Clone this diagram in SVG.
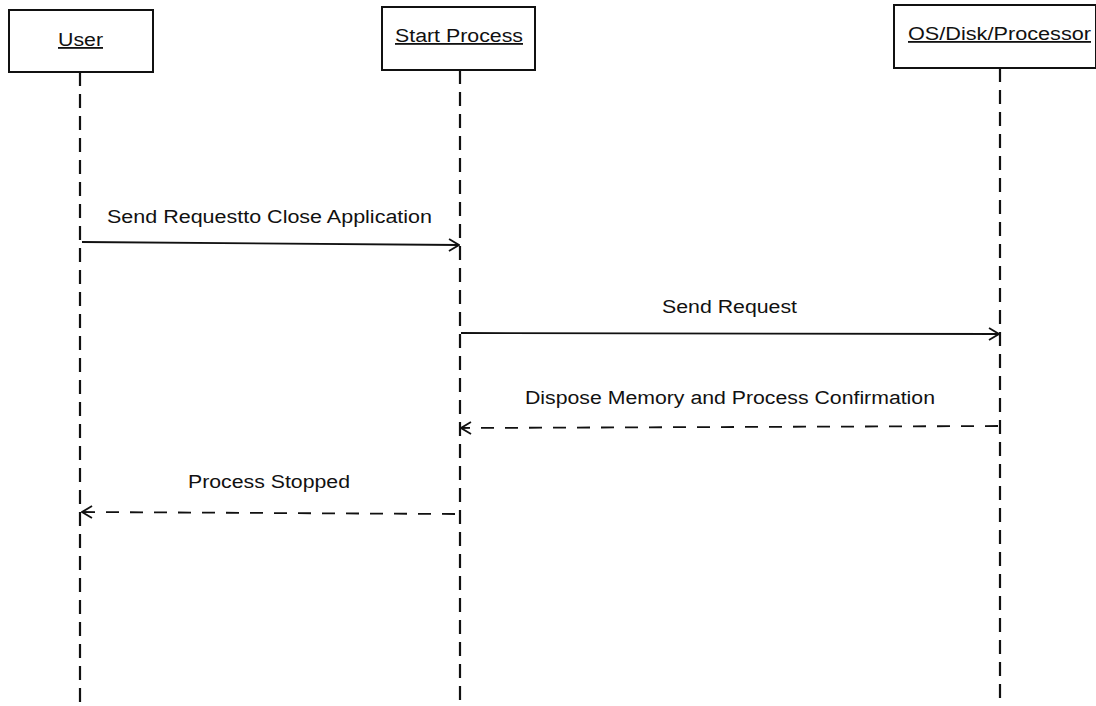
<svg xmlns="http://www.w3.org/2000/svg" width="1096" height="706" viewBox="0 0 1096 706">
<style>
.box{fill:#fff;stroke:#111;stroke-width:2}
.t{font-family:"Liberation Sans",Arial,sans-serif;font-size:18px;fill:#111;text-anchor:start}
.u{text-decoration:underline}
.life{stroke:#111;stroke-width:2.2;stroke-dasharray:14 8;fill:none}
.msg{stroke:#111;stroke-width:1.8;fill:none}
.ret{stroke:#111;stroke-width:1.8;fill:none;stroke-dasharray:13 11}
</style>
<defs>
<marker id="open" viewBox="0 0 12 14" refX="11" refY="7" markerWidth="12" markerHeight="14" markerUnits="userSpaceOnUse" orient="auto">
<path d="M1,1 L11,7 L1,13" fill="none" stroke="#111" stroke-width="1.8"/>
</marker>
</defs>
<rect width="1096" height="706" fill="#fff"/>
<g id="user">
<rect class="box" x="9" y="10" width="144" height="62"/>
<text class="t u" x="58" y="46" textLength="45" lengthAdjust="spacingAndGlyphs">User</text>
</g>
<g id="start-process">
<rect class="box" x="382" y="7" width="153" height="63"/>
<text class="t u" x="395" y="42" textLength="128" lengthAdjust="spacingAndGlyphs">Start Process</text>
</g>
<g id="os">
<rect class="box" x="894" y="5" width="202" height="63"/>
<text class="t u" x="908" y="40" textLength="183" lengthAdjust="spacingAndGlyphs">OS/Disk/Processor</text>
</g>
<g id="connectors">
<line class="life" x1="80" y1="72" x2="80" y2="706"/>
<line class="life" x1="460" y1="70" x2="460" y2="706"/>
<line class="life" x1="1000" y1="68" x2="1000" y2="706"/>
<line class="msg" x1="82" y1="242" x2="459" y2="245" marker-end="url(#open)"/>
<text class="t" x="107" y="223" textLength="325" lengthAdjust="spacingAndGlyphs">Send Requestto Close Application</text>
<line class="msg" x1="461" y1="333" x2="999" y2="334" marker-end="url(#open)"/>
<text class="t" x="662" y="313" textLength="135" lengthAdjust="spacingAndGlyphs">Send Request</text>
<line class="ret" x1="998" y1="426" x2="461" y2="428" marker-end="url(#open)"/>
<text class="t" x="525" y="404" textLength="410" lengthAdjust="spacingAndGlyphs">Dispose Memory and Process Confirmation</text>
<line class="ret" x1="455" y1="514" x2="82" y2="512" marker-end="url(#open)"/>
<text class="t" x="188" y="488" textLength="162" lengthAdjust="spacingAndGlyphs">Process Stopped</text>
</g>
</svg>
